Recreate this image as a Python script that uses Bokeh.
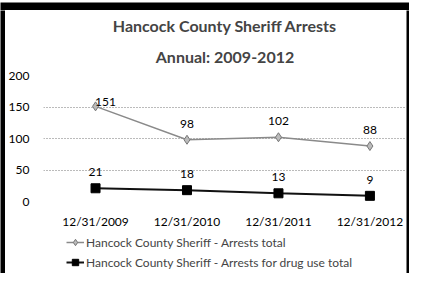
from bokeh.plotting import figure
from bokeh.layouts import column, row
from bokeh.models import Range1d, FixedTicker, Title, Legend, LegendItem, ColumnDataSource
from bokeh.core.properties import value
from bokeh.embed import file_html
from bokeh.resources import INLINE

dates = ["12/31/2009", "12/31/2010", "12/31/2011", "12/31/2012"]
arrests_total = [151, 98, 102, 88]
drug_total = [21, 18, 13, 9]
y_ticks = [0, 50, 100, 150, 200]
series_names = ["Hancock County Sheriff - Arrests total",
                "Hancock County Sheriff - Arrests for drug use total"]

FONT = "Lato"
xs = list(range(len(dates)))

LB, RB, TB, BB = 5, 3, 10, 5
TOTAL_W = 409
P_W = TOTAL_W - LB - RB
P_H, L_H = 221, 42
p = figure(width=P_W, height=P_H, output_backend="svg", toolbar_location=None,
           x_range=Range1d(-0.569, 3.40), y_range=Range1d(0, 200),
           min_border_left=29, min_border_right=0, min_border_top=65, min_border_bottom=25)
p.outline_line_color = None

t2 = Title(text="Annual: 2009-2012", align="center", text_font=FONT,
           text_font_size="16px", text_font_style="bold", offset=-10, standoff=19)
t1 = Title(text="Hancock County Sheriff Arrests", align="center", text_font=FONT,
           text_font_size="16px", text_font_style="bold", offset=-10, standoff=1)
p.add_layout(t2, "above")
p.add_layout(t1, "above")

p.xaxis.ticker = FixedTicker(ticks=xs)
p.xaxis.major_label_overrides = {i: d for i, d in enumerate(dates)}
p.yaxis.ticker = FixedTicker(ticks=y_ticks)
for ax in (p.xaxis, p.yaxis):
    ax.axis_line_color = None
    ax.major_tick_line_color = None
    ax.minor_tick_line_color = None
    ax.major_label_text_font = FONT
    ax.major_label_text_font_size = "12px"
    ax.major_label_text_color = "black"
p.xaxis.major_label_standoff = 6
p.yaxis.major_label_standoff = 8
p.xgrid.grid_line_color = None
p.ygrid.grid_line_color = "#777777"
p.ygrid.grid_line_dash = "1 2"
p.ygrid.grid_line_width = 1

src1 = ColumnDataSource(dict(x=xs, y=arrests_total))
src2 = ColumnDataSource(dict(x=xs, y=drug_total))

S1 = dict(line_color="#8a8a8a", line_width=1.5)
M1 = dict(marker="diamond", size=9, fill_color="#bbbbbb", line_color="#777777")
S2 = dict(line_color="#111111", line_width=2)
M2 = dict(marker="square", size=9, fill_color="black", line_color="black")

def draw(fig):
    a = fig.line("x", "y", source=src1, **S1)
    b = fig.scatter("x", "y", source=src1, **M1)
    c = fig.line("x", "y", source=src2, **S2)
    d = fig.scatter("x", "y", source=src2, **M2)
    return a, b, c, d

draw(p)

x_off1 = [10, 0, 0, 0]
y_off1 = [-4, -16, -16, -16]
p.text(x=xs, y=arrests_total, text=[str(v) for v in arrests_total],
       x_offset=x_off1, y_offset=y_off1, text_align="center", text_baseline="middle",
       text_font=value(FONT), text_font_size="12px", text_color="black")
p.text(x=xs, y=drug_total, text=[str(v) for v in drug_total],
       y_offset=-16, text_align="center", text_baseline="middle",
       text_font=value(FONT), text_font_size="12px", text_color="black")

# legend strip: same series, plotted out of view, only the legend shows
lf = figure(width=P_W, height=L_H, output_backend="svg", toolbar_location=None,
            x_range=Range1d(100, 101), y_range=Range1d(1000, 1001),
            min_border=0, x_axis_type=None, y_axis_type=None)
lf.outline_line_color = None
lf.xgrid.grid_line_color = None
lf.ygrid.grid_line_color = None
a, b, c, d = draw(lf)
legend = Legend(items=[
    LegendItem(label=series_names[0], renderers=[a, b]),
    LegendItem(label=series_names[1], renderers=[c, d]),
], location=(23, 3), orientation="vertical", border_line_color=None,
    background_fill_alpha=0, label_text_font=FONT, label_text_font_size="12px",
    glyph_width=18, glyph_height=16, label_height=16, label_standoff=2,
    spacing=4, padding=2, margin=0)
lf.add_layout(legend, "center")

def bar(w, h):
    f = figure(width=w, height=h, output_backend="svg", toolbar_location=None,
               min_border=0, x_axis_type=None, y_axis_type=None,
               background_fill_color="black", border_fill_color="black")
    f.outline_line_color = None
    f.xgrid.grid_line_color = None
    f.ygrid.grid_line_color = None
    return f

layout = column(
    bar(TOTAL_W, TB),
    row(bar(LB, P_H + L_H), column(p, lf, spacing=0), bar(RB, P_H + L_H), spacing=0),
    bar(TOTAL_W, BB),
    spacing=0,
)

open("out.html", "w").write(file_html(layout, INLINE))
